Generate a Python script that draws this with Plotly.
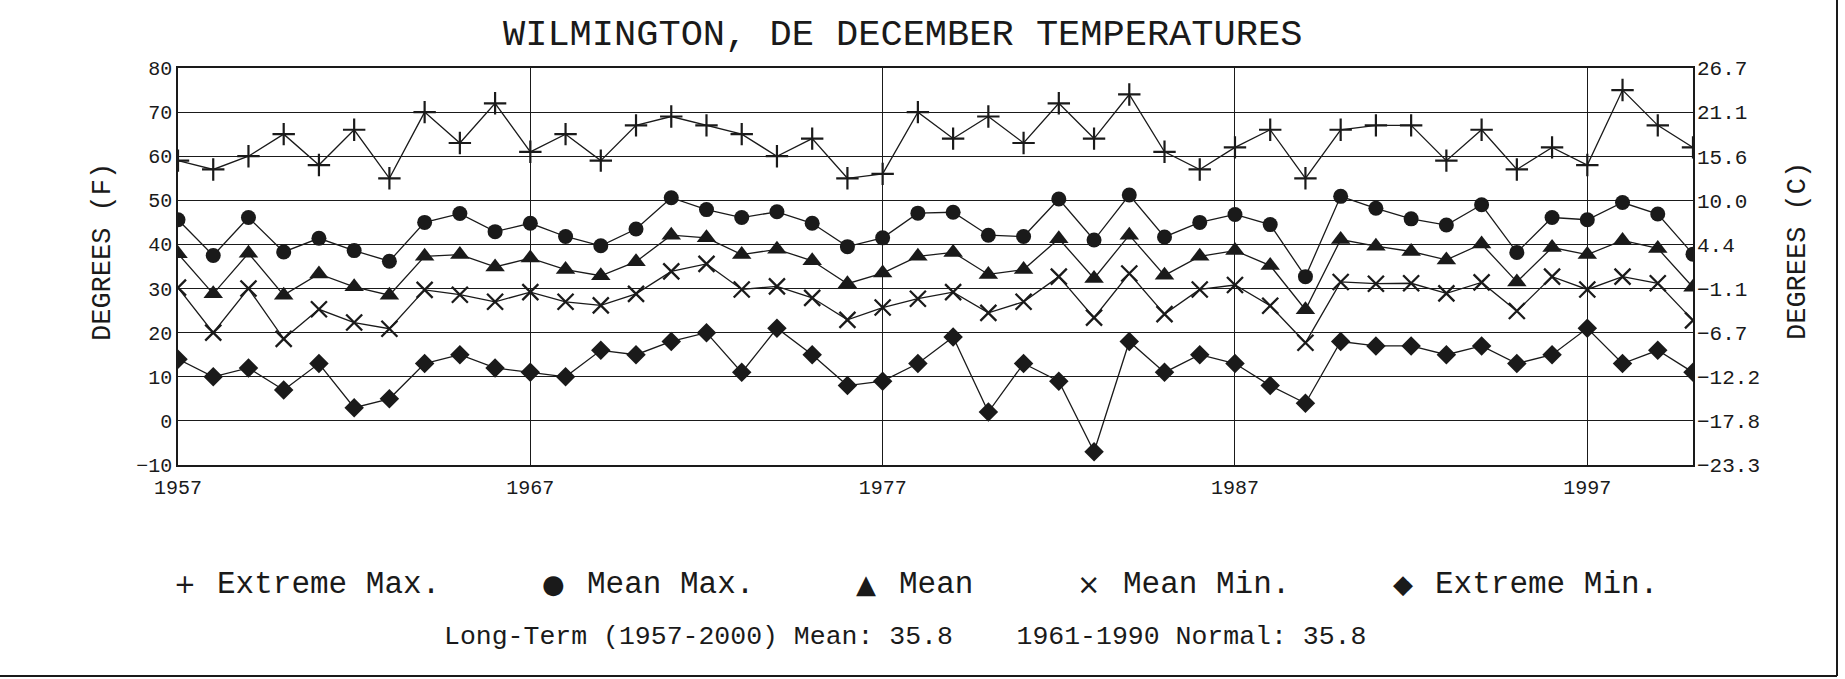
import plotly.graph_objects as go

years = list(range(1957, 2001))

extreme_max = [59, 57, 60, 65, 58, 66, 55, 70, 63, 72,
               61, 65, 59, 67, 69, 67, 65, 60, 64, 55,
               56, 70, 64, 69, 63, 72, 64, 74, 61, 57,
               62, 66, 55, 66, 67, 67, 59, 66, 57, 62,
               58, 75, 67, 62]

mean_max = [45.6, 37.5, 46.1, 38.3, 41.4, 38.6, 36.2, 45.0, 47.0, 42.9,
            44.8, 41.8, 39.7, 43.5, 50.6, 47.9, 46.1, 47.4, 44.8, 39.5,
            41.5, 47.1, 47.3, 42.1, 41.8, 50.3, 41.0, 51.2, 41.7, 45.0,
            46.8, 44.5, 32.7, 50.9, 48.2, 45.8, 44.4, 49.0, 38.2, 46.1,
            45.6, 49.5, 46.9, 37.8]

mean_t = [37.9, 28.8, 38.0, 28.5, 33.3, 30.4, 28.5, 37.3, 37.7, 34.9,
          36.9, 34.3, 32.9, 36.1, 42.1, 41.5, 37.7, 38.9, 36.3, 31.1,
          33.5, 37.3, 38.2, 33.2, 34.3, 41.3, 32.3, 42.1, 33.0, 37.3,
          38.6, 35.2, 25.2, 41.1, 39.6, 38.4, 36.5, 40.1, 31.5, 39.3,
          37.7, 40.9, 39.1, 30.3]

mean_min = [30.2, 20.0, 30.0, 18.6, 25.3, 22.3, 20.9, 29.7, 28.6, 27.0,
            29.2, 27.0, 26.2, 28.8, 33.9, 35.6, 29.8, 30.5, 27.9, 22.9,
            25.7, 27.7, 29.2, 24.5, 27.0, 32.7, 23.4, 33.4, 24.2, 29.8,
            30.8, 26.1, 17.7, 31.5, 31.1, 31.2, 28.9, 31.4, 24.9, 32.7,
            29.8, 32.7, 31.2, 22.8]

extreme_min = [14, 10, 12, 7, 13, 3, 5, 13, 15, 12,
               11, 10, 16, 15, 18, 20, 11, 21, 15, 8,
               9, 13, 19, 2, 13, 9, -7, 18, 11, 15,
               13, 8, 4, 18, 17, 17, 15, 17, 13, 15,
               21, 13, 16, 11]

x_ticks = [1957, 1967, 1977, 1987, 1997]
f_ticks = [-10, 0, 10, 20, 30, 40, 50, 60, 70, 80]

series_names = ["Extreme Max.", "Mean Max.", "Mean", "Mean Min.", "Extreme Min."]
legend_glyphs = ["+", "\u25CF", "\u25B2", "\u00D7", "\u25C6"]
footer_text = "Long-Term (1957-2000) Mean: 35.8    1961-1990 Normal: 35.8"
title_text = "WILMINGTON, DE DECEMBER TEMPERATURES"
y_title_left = "DEGREES (F)"
y_title_right = "DEGREES (C)"

FONT = "Liberation Mono, Courier New, monospace"
INK = "#1a1a1a"

# page body margin is removed (post_script below), so figure pixels == window pixels
W, H = 1845, 679
L, T = 178, 68
R = W - 1693
B = H - 465
PW, PH = W - L - R, H - T - B


def px_x(page_x):
    return (page_x - L) / PW


def px_y(page_y):
    return (H - B - page_y) / PH


fig = go.Figure()

styles = [
    dict(symbol="cross-thin", size=16, line=dict(width=2.2, color=INK)),
    dict(symbol="circle", size=15, color=INK),
    dict(symbol="triangle-up", size=17, color=INK),
    dict(symbol="x-thin", size=16, line=dict(width=2.3, color=INK)),
    dict(symbol="diamond", size=15, color=INK),
]
data = [extreme_max, mean_max, mean_t, mean_min, extreme_min]

for name, vals, st in zip(series_names, data, styles):
    marker = dict(st)
    marker.setdefault("color", INK)
    fig.add_trace(go.Scatter(
        x=years, y=vals, name=name, mode="lines+markers",
        line=dict(color=INK, width=1.3),
        marker=marker, cliponaxis=True, showlegend=False,
    ))

c_ticks = [(f - 32) * 5 / 9 for f in f_ticks]
c_text = [f"{c:.1f}".replace("-", "\u2212") for c in c_ticks]

axis_common = dict(
    showline=True, linecolor=INK, linewidth=1.5,
    showgrid=True, gridcolor=INK, gridwidth=1.2,
    zeroline=False, ticks="",
)

fig.update_layout(
    width=W, height=H,
    paper_bgcolor="white", plot_bgcolor="white",
    margin=dict(l=L, r=R, t=T, b=B, pad=0, autoexpand=False),
    font=dict(family=FONT, color=INK),
    xaxis=dict(range=[1957, 2000], tickvals=x_ticks, mirror=True,
               ticklabelstandoff=3, tickfont=dict(family=FONT, size=20, color=INK),
               **axis_common),
    yaxis=dict(range=[-10, 80], tickvals=f_ticks, mirror=True,
               tickfont=dict(family=FONT, size=20, color=INK), **axis_common),
    yaxis2=dict(range=[(-10 - 32) * 5 / 9, (80 - 32) * 5 / 9], overlaying="y", side="right",
                tickvals=c_ticks, ticktext=c_text, showgrid=False, showline=False,
                zeroline=False, ticks="", ticklabelstandoff=3,
                tickfont=dict(family=FONT, size=21, color=INK)),
)

# invisible trace so the Celsius axis is drawn
fig.add_trace(go.Scatter(x=[years[0]], y=[c_ticks[0]], yaxis="y2", mode="markers",
                         marker=dict(opacity=0), hoverinfo="skip", showlegend=False))

annotations = [
    dict(text=title_text, x=px_x(902), y=px_y(35), xref="paper", yref="paper",
         xanchor="center", yanchor="middle", showarrow=False,
         font=dict(family=FONT, size=37, color=INK)),
    dict(text=footer_text, x=px_x(905), y=px_y(637), xref="paper", yref="paper",
         xanchor="center", yanchor="middle", showarrow=False,
         font=dict(family=FONT, size=26.5, color=INK)),
    dict(text=y_title_left, x=px_x(103), y=px_y(252), xref="paper", yref="paper",
         xanchor="center", yanchor="middle", showarrow=False, textangle=-90,
         font=dict(family=FONT, size=27, color=INK)),
    dict(text=y_title_right, x=px_x(1798), y=px_y(251), xref="paper", yref="paper",
         xanchor="center", yanchor="middle", showarrow=False, textangle=-90,
         font=dict(family=FONT, size=27, color=INK)),
]

glyph_x = [185, 553, 866, 1088, 1403]
text_x = [215, 585, 897, 1121, 1433]
glyph_sizes = [26, 26, 26, 28, 26]
for g, gx, tx, nm, gs in zip(legend_glyphs, glyph_x, text_x, series_names, glyph_sizes):
    annotations.append(dict(text=g, x=px_x(gx), y=px_y(584), xref="paper", yref="paper",
                            xanchor="center", yanchor="middle", showarrow=False,
                            font=dict(family="DejaVu Sans", size=gs, color=INK)))
    annotations.append(dict(text=nm, x=px_x(tx), y=px_y(584), xref="paper", yref="paper",
                            xanchor="left", yanchor="middle", showarrow=False,
                            font=dict(family=FONT, size=31, color=INK)))

fig.update_layout(annotations=annotations)

# outer frame: right and bottom edges of the picture border
fig.add_shape(type="line", xref="paper", yref="paper",
              x0=px_x(1837), x1=px_x(1837), y0=px_y(676), y1=px_y(0),
              line=dict(color=INK, width=2))
fig.add_shape(type="line", xref="paper", yref="paper",
              x0=px_x(0), x1=px_x(1837), y0=px_y(676), y1=px_y(676),
              line=dict(color=INK, width=2))

fig.write_html(
    "out.html",
    config={"displayModeBar": False},
    post_script="document.body.style.margin='0px';document.body.style.overflow='hidden';",
)
